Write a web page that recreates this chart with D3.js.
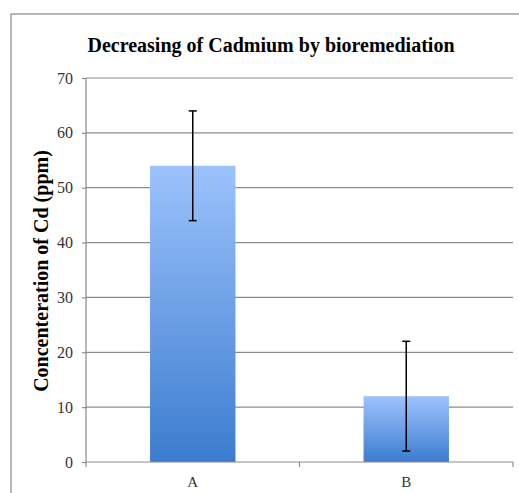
<!DOCTYPE html>
<html>
<head>
<meta charset="utf-8">
<script src="https://cdn.jsdelivr.net/npm/d3@7"></script>
<style>
  body { margin: 0; background: #fff; }
</style>
</head>
<body>
<svg></svg>
<script>
const categories = ["A", "B"];
const values = [54, 12];
const errLow = [44, 2];
const errHigh = [64, 22];
const yTicks = [0, 10, 20, 30, 40, 50, 60, 70];

const width = 519, height = 493;
const plotLeft = 86, plotRight = 513, plotTop = 78, plotBottom = 462;
const serif = "'Liberation Serif', 'Times New Roman', Times, 'DejaVu Serif', serif";

let svg = d3.select("svg").attr("width", width).attr("height", height)
    .style("font-family", serif);

// outer chart frame (runs off the right and bottom edge)
svg.append("rect")
    .attr("x", 11).attr("y", 14)
    .attr("width", 520).attr("height", 500)
    .attr("fill", "#fff")
    .attr("stroke", "#a0a0a0")
    .attr("stroke-width", 1.5);

let defs = svg.append("defs");
let grad = defs.append("linearGradient").attr("id", "barGrad")
    .attr("x1", 0).attr("y1", 0).attr("x2", 0).attr("y2", 1);
grad.append("stop").attr("offset", "0%").attr("stop-color", "#9cc2fc");
grad.append("stop").attr("offset", "100%").attr("stop-color", "#3c7ccf");

let scX = d3.scaleBand().domain(categories).range([plotLeft, plotRight]).paddingInner(0.6).paddingOuter(0.3);
let scY = d3.scaleLinear().domain([0, 70]).range([plotBottom, plotTop]);

// gridlines
svg.append("g").selectAll("line").data(yTicks.slice(1)).enter().append("line")
    .attr("x1", plotLeft).attr("x2", plotRight)
    .attr("y1", d => scY(d)).attr("y2", d => scY(d))
    .attr("stroke", "#8c8c8c").attr("stroke-width", 1.2);

// bars
svg.append("g").selectAll("rect").data(categories).enter().append("rect")
    .attr("x", d => scX(d))
    .attr("y", (d, i) => scY(values[i]))
    .attr("width", scX.bandwidth())
    .attr("height", (d, i) => plotBottom - scY(values[i]))
    .attr("fill", "url(#barGrad)");

// y axis
let axisY = d3.axisLeft(scY).tickValues(yTicks).tickSize(4).tickPadding(9);
let gy = svg.append("g").attr("transform", `translate(${plotLeft},0)`).call(axisY)
    .attr("font-family", serif).attr("font-size", 16);
gy.select(".domain").attr("stroke", "#8c8c8c").attr("stroke-width", 1.2).attr("d", `M0,${plotTop}V${plotBottom}`);
gy.selectAll(".tick line").attr("stroke", "#8c8c8c").attr("stroke-width", 1.2);
gy.selectAll(".tick text").attr("fill", "#333");

// x axis: ticks at band boundaries
let xb = d3.scalePoint().domain([0, 1, 2]).range([plotLeft, plotRight]);
svg.append("line").attr("x1", plotLeft).attr("x2", plotRight).attr("y1", plotBottom).attr("y2", plotBottom)
    .attr("stroke", "#8c8c8c").attr("stroke-width", 1.2);
svg.append("g").selectAll("line").data([0, 1, 2]).enter().append("line")
    .attr("x1", d => xb(d)).attr("x2", d => xb(d))
    .attr("y1", plotBottom).attr("y2", plotBottom + 5)
    .attr("stroke", "#8c8c8c").attr("stroke-width", 1.2);
svg.append("g").selectAll("text").data(categories).enter().append("text")
    .attr("x", d => scX(d) + scX.bandwidth() / 2)
    .attr("y", 487)
    .attr("text-anchor", "middle")
    .attr("font-size", 15).attr("fill", "#333")
    .text(d => d);

// error bars
let eb = svg.append("g").attr("stroke", "#000").attr("stroke-width", 1.5);
categories.forEach((c, i) => {
    let cx = scX(c) + scX.bandwidth() / 2;
    eb.append("line").attr("x1", cx).attr("x2", cx).attr("y1", scY(errHigh[i])).attr("y2", scY(errLow[i]));
    eb.append("line").attr("x1", cx - 4).attr("x2", cx + 4).attr("y1", scY(errHigh[i])).attr("y2", scY(errHigh[i]));
    eb.append("line").attr("x1", cx - 4).attr("x2", cx + 4).attr("y1", scY(errLow[i])).attr("y2", scY(errLow[i]));
});

// title
svg.append("text")
    .attr("x", 271).attr("y", 52)
    .attr("text-anchor", "middle")
    .attr("font-size", 20).attr("font-weight", "bold")
    .text("Decreasing of Cadmium by bioremediation");

// y label
svg.append("text")
    .attr("transform", "translate(48,271) rotate(-90)")
    .attr("text-anchor", "middle")
    .attr("font-size", 20).attr("font-weight", "bold")
    .text("Concenteration of Cd (ppm)");
</script>
</body>
</html>
